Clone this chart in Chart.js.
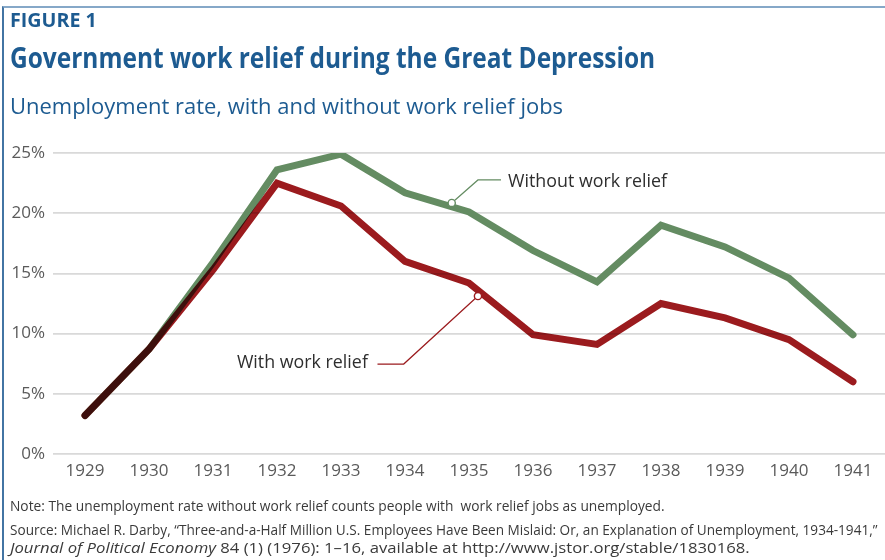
<!DOCTYPE html>
<html>
<head>
<meta charset="utf-8">
<script src="https://cdn.jsdelivr.net/npm/chart.js@4.4.1/dist/chart.umd.min.js"></script>
<style>
html,body{margin:0;padding:0;background:#fff;}
body{width:885px;height:560px;position:relative;overflow:hidden;font-family:"Open Sans",sans-serif;}
#frame{position:absolute;left:2px;top:6px;width:900px;height:600px;border-left:2px solid #4274a3;border-top:2px solid #86a8c8;box-sizing:border-box;}
canvas{position:absolute;left:0;top:0;}
.t{position:absolute;white-space:nowrap;line-height:1;transform-origin:0 0;}
</style>
</head>
<body>
<div id="frame"></div>
<canvas id="c" width="885" height="560"></canvas>
<div class="t" data-l="10" data-b="28" data-s="19" data-w="87" style="font-weight:700;color:#1d5b91;">FIGURE 1</div>
<div class="t" data-l="10" data-b="68" data-s="28" data-w="645" style="font-weight:700;color:#1d5b91;">Government work relief during the Great Depression</div>
<div class="t" data-l="10" data-b="114" data-s="22" data-w="553" style="color:#1d5b91;">Unemployment rate, with and without work relief jobs</div>
<div class="t" data-l="10" data-b="511" data-s="14" data-w="655" style="color:#3a3a3a;">Note: The unemployment rate without work relief counts people with&nbsp; work relief jobs as unemployed.</div>
<div class="t" data-l="10" data-b="535" data-s="14" data-w="867" style="color:#3a3a3a;">Source: Michael R. Darby, “Three-and-a-Half Million U.S. Employees Have Been Mislaid: Or, an Explanation of Unemployment, 1934-1941,”</div>
<div class="t" data-l="10" data-b="553" data-s="14" data-w="740" style="color:#3a3a3a;"><i>Journal of Political Economy</i> 84 (1) (1976): 1–16, available at http://www.jstor.org/stable/1830168.</div>
<script>
// ---- data ----
const years = ["1929","1930","1931","1932","1933","1934","1935","1936","1937","1938","1939","1940","1941"];
const withRelief    = [3.2, 8.7, 15.3, 22.5, 20.6, 16.0, 14.2, 9.9, 9.1, 12.5, 11.3, 9.5, 6.0];
const withoutRelief = [3.2, 8.7, 15.9, 23.6, 24.9, 21.7, 20.1, 16.9, 14.3, 19.0, 17.2, 14.6, 9.9];
const yTicks = [0, 5, 10, 15, 20, 25];
const seriesLabels = ["With work relief", "Without work relief"];

// callouts in data units: [categoryIndex, value]
const callouts = [
  {text: seriesLabels[1], color: "#648c62", dot: [5.73, 20.85], path: [[6.14, 22.76], [6.50, 22.76]], at: [6.61, 22.62], align: "left", w: 159},
  {text: seriesLabels[0], color: "#9b1b1e", dot: [6.14, 13.12], path: [[4.98, 7.47], [4.57, 7.47]], at: [4.42, 7.55], align: "right", w: 131}
];

// fit header/footer texts
document.querySelectorAll('.t').forEach(el => {
  const s = +el.dataset.s;
  el.style.fontSize = s + 'px';
  el.style.left = el.dataset.l + 'px';
  el.style.top = (+el.dataset.b - 0.888 * s) + 'px';
  const w = el.scrollWidth;
  el.style.transform = 'scaleX(' + (+el.dataset.w / w) + ')';
});

const blend = {
  id: 'blend',
  beforeDatasetDraw(chart, args) { if (args.index === 0) { chart.ctx.save(); chart.ctx.globalCompositeOperation = 'multiply'; } },
  afterDatasetDraw(chart, args) { if (args.index === 0) chart.ctx.restore(); }
};

const callout = {
  id: 'callout',
  afterDatasetsDraw(chart) {
    const ctx = chart.ctx, xs = chart.scales.x, ys = chart.scales.y;
    const P = p => [xs.getPixelForValue(p[0]), ys.getPixelForValue(p[1])];
    callouts.forEach(c => {
      const d = P(c.dot);
      ctx.save();
      ctx.strokeStyle = c.color; ctx.lineWidth = 1.2;
      ctx.beginPath(); ctx.moveTo(d[0], d[1]);
      c.path.forEach(p => { const q = P(p); ctx.lineTo(q[0], q[1]); });
      ctx.stroke();
      ctx.beginPath(); ctx.arc(d[0], d[1], 3.6, 0, Math.PI * 2);
      ctx.fillStyle = '#fff'; ctx.fill(); ctx.lineWidth = 1.4; ctx.stroke();
      const t = P(c.at);
      ctx.font = '18px "Open Sans"';
      ctx.fillStyle = '#2e2e2e';
      ctx.textBaseline = 'middle';
      const m = ctx.measureText(c.text).width;
      const k = c.w / m;
      ctx.translate(t[0], t[1]); ctx.scale(k, 1);
      ctx.textAlign = c.align;
      ctx.fillText(c.text, 0, 0);
      ctx.restore();
    });
  }
};

new Chart(document.getElementById('c'), {
  type: 'line',
  data: {
    labels: years,
    datasets: [
      {label: seriesLabels[0], data: withRelief, borderColor: '#9b1b1e', borderWidth: 7, pointRadius: 0, tension: 0, borderCapStyle: 'round', borderJoinStyle: 'miter'},
      {label: seriesLabels[1], data: withoutRelief, borderColor: '#648c62', borderWidth: 7, pointRadius: 0, tension: 0, borderCapStyle: 'round', borderJoinStyle: 'miter'}
    ]
  },
  options: {
    responsive: false,
    animation: false,
    devicePixelRatio: 1,
    layout: {padding: {top: 153, bottom: 76, left: 0, right: 0}},
    plugins: {legend: {display: false}, tooltip: {enabled: false}},
    scales: {
      x: {
        offset: true,
        grid: {display: false},
        border: {display: false},
        ticks: {color: '#5a5a5a', font: {family: 'Open Sans', size: 17}, padding: -1, maxRotation: 0, autoSkip: false},
        afterFit(s) { s.height = 30; }
      },
      y: {
        min: 0, max: 25,
        afterBuildTicks(s) { s.ticks = yTicks.map(v => ({value: v})); },
        grid: {color: '#d9d9d9', lineWidth: 1.8, drawTicks: false},
        border: {display: false},
        ticks: {color: '#5a5a5a', font: {family: 'Open Sans', size: 17}, padding: 8, callback: v => v + '%'},
        afterFit(s) { s.width = 53; }
      }
    }
  },
  plugins: [blend, callout]
});
</script>
</body>
</html>
